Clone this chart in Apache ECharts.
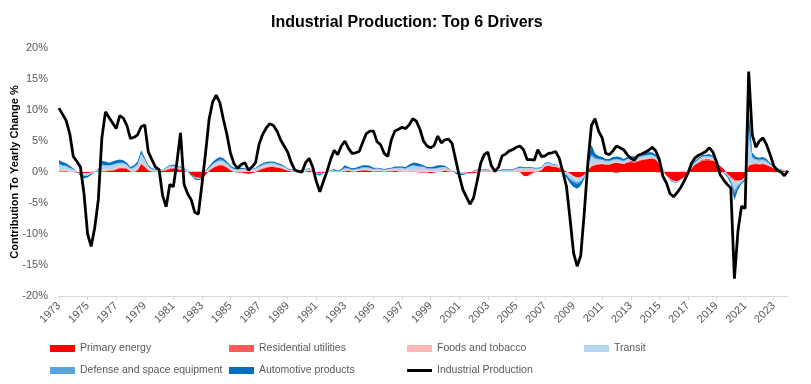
<!DOCTYPE html>
<html>
<head>
<meta charset="utf-8">
<script src="https://cdn.jsdelivr.net/npm/echarts@6/dist/echarts.min.js"></script>
<style>html,body{margin:0;padding:0;background:#fff}#c{width:811px;height:384px}</style>
</head>
<body>
<div id="c"></div>
<script>
// Quarterly observations, 1973 Q1 .. 2024 Q1 (205 points), values in % contribution to yearly change
const startYear = 1973;
const tickLabels = ['1973','1975','1977','1979','1981','1983','1985','1987','1989','1991','1993','1995','1997','1999','2001','2003','2005','2007','2009','2011','2013','2015','2017','2019','2021','2023'];
const seriesNames = ['Primary energy','Residential utilities','Foods and tobacco','Transit','Defense and space equipment','Automotive products','Industrial Production'];

const industrialProduction = [
10.3,9.3,8.3,6.2, 2.5,1.7,0.8,-3.5, -10.0,-12.0,-9.0,-4.5, 5.5,9.7,8.8,7.9,
7.0,9.1,8.7,7.5, 5.4,5.6,6.0,7.3, 7.6,3.2,2.0,0.8, 0.4,-3.8,-5.6,-2.0,
-2.4,1.6,6.3,-2.0, -3.5,-4.5,-6.5,-6.8, -2.0,3.0,8.5,11.3, 12.4,11.2,8.5,6.0,
3.0,1.3,0.6,1.2, 1.5,0.3,0.8,1.5, 4.5,6.1,7.1,7.8, 7.5,6.6,5.2,4.2,
3.2,1.5,0.3,0.1, 0.0,1.5,2.2,0.8, -1.5,-3.2,-1.5,0.1, 2.0,3.5,2.8,4.2,
5.0,3.8,3.0,3.1, 3.3,4.8,6.2,6.6, 6.6,4.9,4.4,3.0, 2.5,5.2,6.6,6.9,
7.2,7.0,7.6,8.6, 8.2,6.9,5.0,4.2, 3.9,4.3,5.8,4.7, 5.2,5.3,4.6,2.0,
-0.6,-2.8,-4.0,-5.2, -4.2,-1.5,1.4,2.8, 3.2,1.0,0.1,0.8, 2.6,2.9,3.4,3.6,
4.0,4.2,3.6,2.0, 2.0,1.9,3.6,2.5, 2.6,3.0,3.1,3.3, 2.2,0.0,-2.3,-7.5,
-13.1,-15.2,-13.5,-6.5, 1.5,7.5,8.6,6.6, 5.5,3.0,2.8,3.4, 4.2,3.9,3.6,2.8,
2.2,1.9,2.7,2.9, 3.2,3.5,4.0,3.4, 2.0,-0.7,-1.8,-3.5, -4.0,-3.3,-2.5,-1.4,
-0.2,1.4,2.3,2.7, 3.0,3.3,3.9,3.2, 1.6,-0.4,-1.3,-2.0, -2.6,-17.2,-9.5,-5.5,
-5.9,16.2,6.0,4.0, 5.0,5.5,4.4,2.8, 1.0,0.3,0.0,-0.6, 0.2
];

const primaryEnergy = [
0.1,0.1,0.1,0.0, 0.0,-0.1,-0.2,-0.2, -0.2,-0.1,0.0,0.0, 0.1,0.1,0.2,0.2,
0.4,0.6,0.6,0.5, 0.1,0.0,0.3,1.3, 0.8,0.3,0.1,0.1, 0.1,0.2,0.3,0.5,
0.6,0.5,0.4,0.2, 0.0,-0.5,-0.8,-0.9, -1.0,-0.5,0.2,0.6, 0.9,1.1,1.0,0.7,
0.3,0.0,-0.1,-0.1, -0.2,-0.3,-0.2,0.0, 0.3,0.5,0.7,0.8, 0.8,0.7,0.6,0.4,
0.2,0.1,0.1,0.1, 0.0,0.1,0.2,0.1, -0.1,-0.2,-0.1,0.0, 0.0,0.1,0.0,0.1,
0.1,0.2,0.1,0.1, 0.2,0.3,0.3,0.2, 0.1,0.1,0.1,0.0, 0.1,0.1,0.2,0.1,
0.1,0.0,0.1,0.1, 0.0,-0.1,-0.1,-0.1, -0.2,-0.1,0.0,0.1, 0.2,0.1,0.1,0.0,
0.0,-0.1,-0.1,-0.2, -0.2,-0.1,0.0,0.0, 0.0,0.1,0.1,0.0, 0.0,0.1,0.0,0.0,
0.0,0.0,-0.6,-0.7, -0.3,0.0,0.1,0.3, 0.9,1.0,0.9,0.8, 0.6,0.4,0.1,-0.3,
-0.7,-0.9,-0.8,-0.5, 0.3,0.9,1.1,1.2, 1.3,1.2,1.2,1.4, 1.5,1.4,1.3,1.5,
1.6,1.5,1.7,1.9, 2.0,2.1,2.2,2.0, 1.3,0.2,-0.6,-1.1, -1.4,-1.5,-1.2,-0.8,
-0.2,0.6,1.2,1.5, 1.8,1.9,1.9,1.8, 1.5,1.0,0.5,-0.3, -0.8,-1.3,-1.4,-1.3,
-0.8,1.0,1.2,1.3, 1.2,1.3,1.1,0.9, 0.6,0.4,0.3,0.2, 0.2
];

const residentialUtilities = [
0.1,0.1,0.1,0.0, 0.0,0.0,0.0,0.0, 0.0,0.1,0.1,0.1, 0.1,0.1,0.1,0.1,
0.1,0.1,0.1,0.1, 0.1,0.0,0.1,0.1, 0.1,0.0,0.0,0.0, 0.0,0.0,0.1,0.1,
0.0,0.0,0.0,0.0, 0.0,0.0,-0.1,-0.1, -0.1,0.0,0.1,0.1, 0.1,0.1,0.1,0.1,
0.0,0.0,0.0,0.0, 0.0,0.0,0.0,0.1, 0.1,0.1,0.1,0.1, 0.1,0.1,0.1,0.1,
0.1,0.0,0.0,0.0, 0.0,0.0,0.0,0.0, 0.0,0.0,0.1,0.0, 0.0,0.0,0.0,0.0,
0.1,0.1,0.0,0.0, 0.0,0.0,0.0,0.0, 0.0,0.1,0.1,0.1, 0.1,0.1,0.0,0.0,
0.0,0.0,0.0,0.0, 0.0,0.0,0.1,0.0, 0.0,0.0,0.0,0.0, 0.1,0.1,0.0,0.0,
0.0,0.0,0.0,0.0, 0.0,0.1,0.1,0.1, 0.1,0.0,0.0,0.0, 0.0,0.0,0.0,0.0,
0.1,0.1,0.1,0.0, -0.1,-0.1,0.0,0.0, 0.1,0.1,0.0,0.1, 0.1,0.0,0.0,0.0,
0.0,0.0,0.0,0.0, 0.1,0.1,0.1,0.1, 0.0,0.0,0.0,-0.1, -0.2,-0.1,0.0,0.1,
0.2,0.2,0.1,0.1, 0.1,0.1,0.0,-0.1, -0.1,-0.1,0.0,-0.1, -0.1,0.0,0.1,0.1,
0.0,0.0,0.0,0.1, 0.2,0.2,0.2,0.1, 0.0,-0.1,-0.1,-0.1, -0.2,-0.1,0.0,0.0,
0.1,0.1,0.1,0.1, 0.1,0.1,0.1,0.0, -0.1,-0.1,0.0,0.0, 0.0
];

const foodsTobacco = [
0.2,0.2,0.2,0.2, 0.2,0.1,0.0,-0.1, -0.1,0.0,0.1,0.1, 0.2,0.2,0.2,0.2,
0.2,0.2,0.2,0.1, 0.1,0.2,0.2,0.3, 0.2,0.1,0.1,0.1, 0.1,0.1,0.1,0.1,
0.1,0.1,0.1,0.1, 0.1,0.0,0.0,0.0, 0.1,0.1,0.1,0.2, 0.2,0.2,0.2,0.2,
0.2,0.2,0.2,0.2, 0.2,0.2,0.2,0.2, 0.2,0.2,0.2,0.2, 0.2,0.1,0.1,0.1,
0.1,0.1,0.1,0.1, 0.1,0.1,0.1,0.1, 0.1,0.1,0.1,0.1, 0.1,0.1,0.1,0.1,
0.1,0.1,0.1,0.1, 0.1,0.1,0.1,0.1, 0.1,0.1,0.1,0.1, 0.1,0.1,0.2,0.2,
0.2,0.2,0.2,0.2, 0.2,0.2,0.2,0.1, 0.1,0.1,0.1,0.1, 0.1,0.1,0.1,0.1,
0.0,0.0,0.0,0.0, 0.1,0.1,0.1,0.1, 0.1,0.1,0.1,0.1, 0.1,0.1,0.1,0.2,
0.2,0.3,0.4,0.5, 0.5,0.4,0.3,0.2, 0.1,0.1,0.1,0.1, 0.1,0.0,0.0,-0.1,
-0.1,-0.1,-0.1,0.0, 0.1,0.1,0.1,0.1, 0.1,0.1,0.1,0.1, 0.1,0.1,0.1,0.1,
0.1,0.1,0.1,0.1, 0.1,0.1,0.1,0.1, 0.1,0.1,0.1,0.1, 0.1,0.1,0.1,0.1,
0.1,0.1,0.1,0.1, 0.1,0.1,0.1,0.1, 0.1,0.0,0.0,0.0, 0.0,-0.3,-0.1,0.0,
0.0,0.3,0.1,0.1, 0.1,0.1,0.1,0.0, 0.0,0.0,0.0,0.0, 0.0
];

const transit = [
0.8,0.6,0.5,0.4, 0.2,0.0,-0.2,-0.3, -0.3,-0.2,-0.1,0.1, 0.7,0.6,0.5,0.6,
0.6,0.5,0.5,0.4, 0.2,0.5,0.6,1.2, 0.8,0.4,0.2,0.1, 0.1,0.0,0.1,0.2,
0.2,0.2,0.2,0.1, 0.1,0.0,-0.1,-0.1, -0.1,0.0,0.2,0.3, 0.4,0.4,0.4,0.3,
0.2,0.2,0.2,0.2, 0.2,0.1,0.2,0.2, 0.2,0.3,0.3,0.3, 0.3,0.3,0.2,0.2,
0.1,0.1,0.1,0.1, 0.1,0.2,0.2,0.1, -0.1,-0.1,0.0,0.0, 0.1,0.1,0.0,0.1,
0.3,0.1,0.1,0.2, 0.2,0.3,0.3,0.3, 0.2,0.2,0.1,0.1, 0.1,0.2,0.2,0.3,
0.3,0.3,0.5,0.7, 0.7,0.6,0.5,0.4, 0.4,0.4,0.5,0.5, 0.4,0.2,0.1,-0.1,
-0.2,-0.2,-0.1,-0.1, 0.0,0.1,0.1,0.1, 0.1,0.0,0.0,0.1, 0.1,0.1,0.1,0.1,
0.2,0.2,0.1,0.1, 0.1,0.1,0.1,0.1, 0.2,0.2,0.1,0.1, 0.0,-0.2,-0.4,-0.6,
-0.6,-0.6,-0.5,-0.2, 0.5,1.4,0.8,0.6, 0.5,0.4,0.4,0.4, 0.4,0.4,0.3,0.3,
0.3,0.3,0.4,0.4, 0.4,0.4,0.4,0.3, 0.2,0.1,0.0,-0.1, -0.1,-0.1,-0.1,0.0,
0.0,0.1,0.2,0.3, 0.3,0.3,0.3,0.3, 0.2,0.1,0.0,-0.1, -0.3,-1.2,-0.6,-0.3,
-0.3,4.5,0.8,0.4, 0.4,0.4,0.3,0.3, 0.2,0.1,0.1,0.1, 0.1
];

const defenseSpace = [
0.1,0.1,0.1,0.1, 0.1,0.0,0.0,0.0, 0.0,0.0,0.0,0.0, 0.1,0.1,0.1,0.1,
0.1,0.1,0.1,0.1, 0.1,0.1,0.1,0.1, 0.1,0.1,0.1,0.1, 0.1,0.1,0.1,0.1,
0.1,0.1,0.1,0.1, 0.1,0.1,0.1,0.1, 0.1,0.1,0.1,0.1, 0.1,0.2,0.2,0.1,
0.1,0.1,0.1,0.1, 0.1,0.1,0.1,0.1, 0.1,0.1,0.1,0.1, 0.1,0.1,0.1,0.1,
0.0,0.0,0.0,0.0, 0.0,0.0,0.0,0.0, 0.0,-0.1,0.0,0.0, 0.0,0.0,0.0,0.0,
0.1,0.1,0.1,0.1, 0.1,0.1,0.1,0.1, 0.1,0.1,0.1,0.1, 0.1,0.1,0.1,0.1,
0.1,0.1,0.1,0.1, 0.1,0.1,0.1,0.1, 0.1,0.1,0.1,0.1, 0.0,0.0,0.0,0.0,
0.0,0.0,0.0,0.0, 0.0,0.0,0.0,0.0, 0.0,0.0,0.0,0.0, 0.1,0.1,0.1,0.1,
0.1,0.1,0.1,0.1, 0.1,0.1,0.1,0.1, 0.1,0.1,0.1,0.1, 0.1,0.0,-0.1,-0.2,
-0.3,-0.3,-0.2,-0.1, 0.1,0.3,0.2,0.1, 0.1,0.1,0.1,0.1, 0.1,0.1,0.1,0.1,
0.1,0.1,0.1,0.1, 0.1,0.1,0.1,0.1, 0.1,0.0,0.0,0.0, 0.0,0.0,0.0,0.0,
0.0,0.1,0.1,0.1, 0.1,0.1,0.1,0.1, 0.1,0.0,0.0,-0.1, -0.2,-0.6,-0.3,-0.1,
-0.1,1.2,0.3,0.2, 0.2,0.2,0.2,0.1, 0.1,0.0,0.0,0.0, 0.0
];

const automotive = [
0.6,0.5,0.4,0.3, 0.1,0.0,-0.3,-0.4, -0.3,-0.2,0.0,0.2, 0.6,0.6,0.4,0.5,
0.5,0.5,0.4,0.3, 0.2,0.3,0.4,0.5, 0.3,0.2,0.1,0.1, 0.0,-0.1,0.1,0.1,
0.2,0.1,0.1,0.1, 0.0,-0.1,-0.2,-0.2, -0.1,0.1,0.2,0.3, 0.4,0.4,0.3,0.3,
0.2,0.2,0.2,0.2, 0.1,0.0,0.0,0.1, 0.2,0.2,0.2,0.2, 0.2,0.2,0.2,0.1,
0.1,0.1,0.1,0.0, 0.0,0.1,0.1,0.0, -0.2,-0.2,-0.1,0.0, 0.1,0.2,0.1,0.2,
0.4,0.2,0.2,0.2, 0.3,0.3,0.3,0.3, 0.2,0.1,0.1,0.1, 0.1,0.1,0.2,0.2,
0.2,0.2,0.3,0.4, 0.5,0.4,0.2,0.2, 0.2,0.3,0.4,0.3, 0.2,0.1,0.0,-0.2,
-0.3,-0.2,-0.1,0.0, 0.1,0.1,0.1,0.1, 0.1,0.0,0.0,0.1, 0.1,0.1,0.1,0.1,
0.1,0.2,0.1,0.1, 0.1,0.1,0.1,0.1, 0.1,0.1,0.1,0.1, 0.0,-0.2,-0.4,-0.6,
-0.7,-0.8,-0.6,-0.3, 0.5,1.6,0.7,0.5, 0.4,0.3,0.3,0.4, 0.4,0.4,0.3,0.3,
0.3,0.3,0.3,0.3, 0.4,0.4,0.4,0.3, 0.2,0.1,0.0,-0.1, -0.1,-0.1,0.0,0.0,
0.0,0.1,0.2,0.2, 0.2,0.2,0.3,0.2, 0.1,0.0,-0.1,-0.2, -0.4,-1.0,-0.5,-0.2,
-0.2,3.0,0.6,0.3, 0.3,0.3,0.3,0.2, 0.1,0.1,0.1,0.0, 0.0
];

const colors = ['#FF0000','#FF5B5B','#FFB7B7','#B4D5EE','#5BA3DB','#0070C0','#000000'];

// category list (quarters)
const categories = [];
for (let i = 0; i < industrialProduction.length; i++) {
  categories.push((startYear + Math.floor(i / 4)) + ' Q' + (i % 4 + 1));
}

const areaData = [primaryEnergy, residentialUtilities, foodsTobacco, transit, defenseSpace, automotive];
const FONT = "'Liberation Sans',Arial,sans-serif";

const series = areaData.map((d, i) => ({
  name: seriesNames[i], type: 'line', stack: 'drivers', data: d,
  symbol: 'none', smooth: false,
  lineStyle: { width: 0, color: colors[i] },
  itemStyle: { color: colors[i] },
  areaStyle: { color: colors[i], opacity: 1 },
  z: 2, silent: true
}));
series.push({
  name: seriesNames[6], type: 'line', data: industrialProduction,
  symbol: 'none', lineStyle: { width: 2.8, color: '#000' }, itemStyle: { color: '#000' },
  z: 5, silent: true
});

const legendPos = [[50,343],[229,343],[407,343],[584,343],[50,365],[229,365],[407,365]];
const legends = seriesNames.map((n, i) => ({
  data: [n], left: legendPos[i][0], top: legendPos[i][1], orient: 'horizontal',
  padding: 0, itemWidth: 25, itemHeight: i === 6 ? 3 : 7, itemGap: 3,
  icon: 'rect',
  textStyle: { color: '#595959', fontSize: 10.5, fontFamily: FONT },
  selectedMode: false
}));

const chart = echarts.init(document.getElementById('c'), null, { renderer: 'canvas' });
chart.setOption({
  animation: false,
  backgroundColor: '#fff',
  textStyle: { fontFamily: FONT },
  title: {
    text: 'Industrial Production: Top 6 Drivers', left: 266, top: 10,
    textStyle: { fontSize: 16, fontWeight: 'bold', color: '#000', fontFamily: FONT }
  },
  legend: legends,
  grid: { left: 59, right: 23, top: 48, bottom: 88, containLabel: false, outerBoundsMode: 'none' },
  xAxis: [
    {
      type: 'category', data: categories, boundaryGap: false,
      axisLine: { show: false }, axisTick: { show: false }, splitLine: { show: false },
      axisLabel: {
        interval: 7, rotate: 45, color: '#595959', fontSize: 11, margin: 8, fontFamily: FONT,
        formatter: (v, i) => tickLabels[Math.round(i / 8)]
      }
    },
    {
      type: 'category', data: categories, boundaryGap: false, position: 'bottom',
      axisLine: { show: true, onZero: true, lineStyle: { color: '#D9D9D9', width: 1 } },
      axisTick: { show: true, interval: 7, length: 4, lineStyle: { color: '#D9D9D9' } },
      axisLabel: { show: false }, splitLine: { show: false }
    }
  ],
  yAxis: {
    type: 'value', min: -20, max: 20, interval: 5,
    name: 'Contribution To Yearly Change %', nameLocation: 'middle', nameGap: 39,
    nameMoveOverlap: false,
    nameTextStyle: { fontSize: 11, fontWeight: 'bold', color: '#000', fontFamily: FONT },
    axisLine: { show: false }, axisTick: { show: false }, splitLine: { show: false },
    axisLabel: { color: '#595959', fontSize: 11, margin: 11, fontFamily: FONT, formatter: '{value}%' }
  },
  series: series
});
</script>
</body>
</html>
